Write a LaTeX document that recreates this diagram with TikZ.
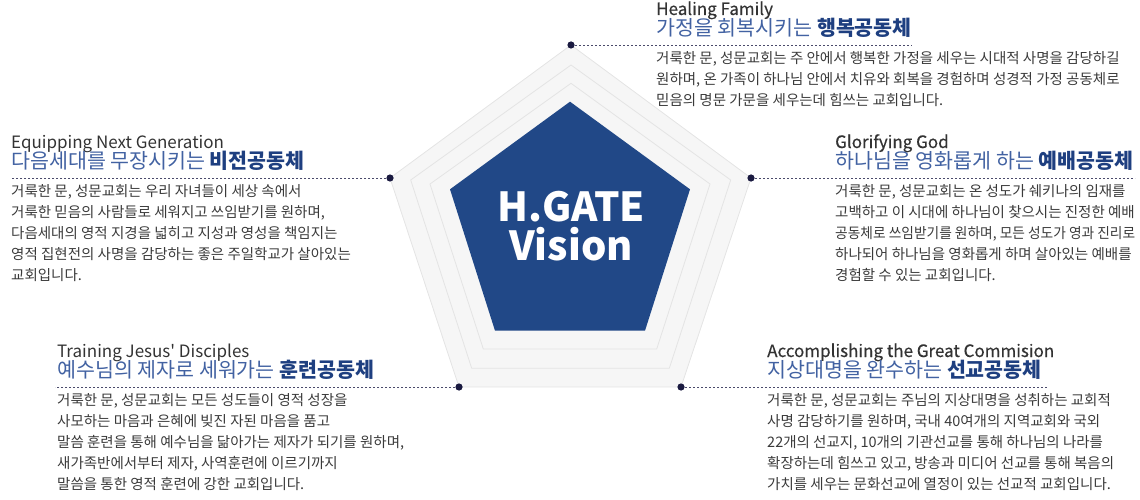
\documentclass[tikz,border=0pt]{standalone}
\usepackage{graphicx}
\usepackage{fontspec}
\setmainfont{Noto Sans CJK KR}[Ligatures=TeXOff]
\newfontfamily\medfont{Noto Sans CJK KR}[Ligatures=TeXOff,FakeBold=0.4]
\definecolor{pentfill}{HTML}{F6F6F6}
\definecolor{pentline}{HTML}{E4E4E4}
\definecolor{hblue}{HTML}{214887}
\definecolor{sublight}{HTML}{4262A2}
\definecolor{subdark}{HTML}{1E3F80}
\definecolor{titlegray}{HTML}{333333}
\definecolor{bodygray}{HTML}{3A3A3A}
\definecolor{dashc}{HTML}{4A4A6A}
\definecolor{dotc}{HTML}{1A1A40}
\begin{document}
\begin{tikzpicture}[x=1pt,y=-1pt,
  ttl/.style={anchor=base west, inner sep=0pt, text=titlegray, font=\fontsize{17}{19}\selectfont},
  ttlm/.style={ttl, font=\fontsize{17}{19}\selectfont\medfont},
  sub/.style={anchor=base west, inner sep=0pt, text=sublight, font=\fontsize{20.6}{23}\selectfont},
  bodytxt/.style={anchor=base west, inner sep=0pt, text=bodygray, font=\fontsize{14.5}{20.9}\selectfont},
  conn/.style={draw=dashc, line width=0.8pt, dash pattern=on 2pt off 2pt},
  dotmark/.style={fill=dotc},
  ring/.style={draw=pentline, line width=0.8pt}]
\useasboundingbox (0,0) rectangle (1140,500);
% pentagon vertices
\coordinate (vt) at (571,45);
\coordinate (vr) at (751,178);
\coordinate (vbr) at (681,387);
\coordinate (vbl) at (459,387);
\coordinate (vl) at (390,178);
\filldraw[fill=pentfill, draw=pentline, line width=0.8pt] (vt) -- (vr) -- (vbr) -- (vbl) -- (vl) -- cycle;
\draw[ring] (571,65) -- (730.7,180) -- (669.3,368.3) -- (471.7,368.3) -- (410.7,180) -- cycle;
\draw[ring] (571,83.3) -- (710,184) -- (656.7,349) -- (483.3,349) -- (430,184) -- cycle;
\fill[hblue] (570,101.7) -- (690,189.3) -- (645,330.7) -- (495,330.7) -- (450,189.3) -- cycle;
\node[anchor=base, inner sep=0pt, text=white, font=\fontsize{40}{40}\selectfont\bfseries] (hg1) at (571,221.7) {H.GATE};
\node[anchor=base, inner sep=0pt, text=white, font=\fontsize{40}{40}\selectfont\bfseries] (hg2) at (571,260) {Vision};
% line ends
\coordinate (et) at (912,45);
\coordinate (el) at (11,178);
\coordinate (er) at (1135,178);
\coordinate (ebl) at (55,387);
\coordinate (ebr) at (1047,387);
\draw[conn] (vt) -- (et);
\draw[conn] (vl) -- (el);
\draw[conn] (vr) -- (er);
\draw[conn] (vbl) -- (ebl);
\draw[conn] (vbr) -- (ebr);
\foreach \p in {vt,vr,vbr,vbl,vl} \fill[dotmark] (\p) circle (3.6);
% top block
\node[ttlm] (t1) at (656,15) {Healing Family};
\node[sub] (s1) at (656,35.5) {가정을 회복시키는 \textcolor{subdark}{\bfseries 행복공동체}};
\node[bodytxt] (b1) at (656,63.8) {\vtop{\baselineskip=20.9pt
 \hbox{거룩한 문, 성문교회는 주 안에서 행복한 가정을 세우는 시대적 사명을 감당하길}
 \hbox{원하며, 온 가족이 하나님 안에서 치유와 회복을 경험하며 성경적 가정 공동체로}
 \hbox{믿음의 명문 가문을 세우는데 힘쓰는 교회입니다.}}};
% left block
\node[ttl] (t2) at (11,148) {Equipping Next Generation};
\node[sub] (s2) at (11,168.5) {다음세대를 무장시키는 \textcolor{subdark}{\bfseries 비전공동체}};
\node[bodytxt] (b2) at (11,196.8) {\vtop{\baselineskip=20.9pt
 \hbox{거룩한 문, 성문교회는 우리 자녀들이 세상 속에서}
 \hbox{거룩한 믿음의 사람들로 세워지고 쓰임받기를 원하며,}
 \hbox{다음세대의 영적 지경을 넓히고 지성과 영성을 책임지는}
 \hbox{영적 집현전의 사명을 감당하는 좋은 주일학교가 살아있는}
 \hbox{교회입니다.}}};
% right block
\node[ttlm] (t3) at (835,148) {Glorifying God};
\node[sub] (s3) at (835,168.5) {하나님을 영화롭게 하는 \textcolor{subdark}{\bfseries 예배공동체}};
\node[bodytxt] (b3) at (835,196.8) {\vtop{\baselineskip=20.9pt
 \hbox{거룩한 문, 성문교회는 온 성도가 쉐키나의 임재를}
 \hbox{고백하고 이 시대에 하나님이 찾으시는 진정한 예배}
 \hbox{\resizebox{300pt}{\height}{공동체로 쓰임받기를 원하며, 모든 성도가 영과 진리로}}
 \hbox{하나되어 하나님을 영화롭게 하며 살아있는 예배를}
 \hbox{경험할 수 있는 교회입니다.}}};
% bottom-left block
\node[ttl] (t4) at (57,357) {Training Jesus' Disciples};
\node[sub] (s4) at (57,377.5) {예수님의 제자로 세워가는 \textcolor{subdark}{\bfseries 훈련공동체}};
\node[bodytxt] (b4) at (57,405.8) {\vtop{\baselineskip=20.9pt
 \hbox{거룩한 문, 성문교회는 모든 성도들이 영적 성장을}
 \hbox{사모하는 마음과 은혜에 빚진 자된 마음을 품고}
 \hbox{말씀 훈련을 통해 예수님을 닮아가는 제자가 되기를 원하며,}
 \hbox{새가족반에서부터 제자, 사역훈련에 이르기까지}
 \hbox{말씀을 통한 영적 훈련에 강한 교회입니다.}}};
% bottom-right block
\node[ttlm] (t5) at (767,357) {Accomplishing the Great Commision};
\node[sub] (s5) at (767,377.5) {지상대명을 완수하는 \textcolor{subdark}{\bfseries 선교공동체}};
\node[bodytxt] (b5) at (767,405.8) {\vtop{\baselineskip=20.9pt
 \hbox{거룩한 문, 성문교회는 주님의 지상대명을 성취하는 교회적}
 \hbox{사명 감당하기를 원하며, 국내 40여개의 지역교회와 국외}
 \hbox{22개의 선교지, 10개의 기관선교를 통해 하나님의 나라를}
 \hbox{확장하는데 힘쓰고 있고, 방송과 미디어 선교를 통해 복음의}
 \hbox{가치를 세우는 문화선교에 열정이 있는 선교적 교회입니다.}}};
\end{tikzpicture}
\end{document}
